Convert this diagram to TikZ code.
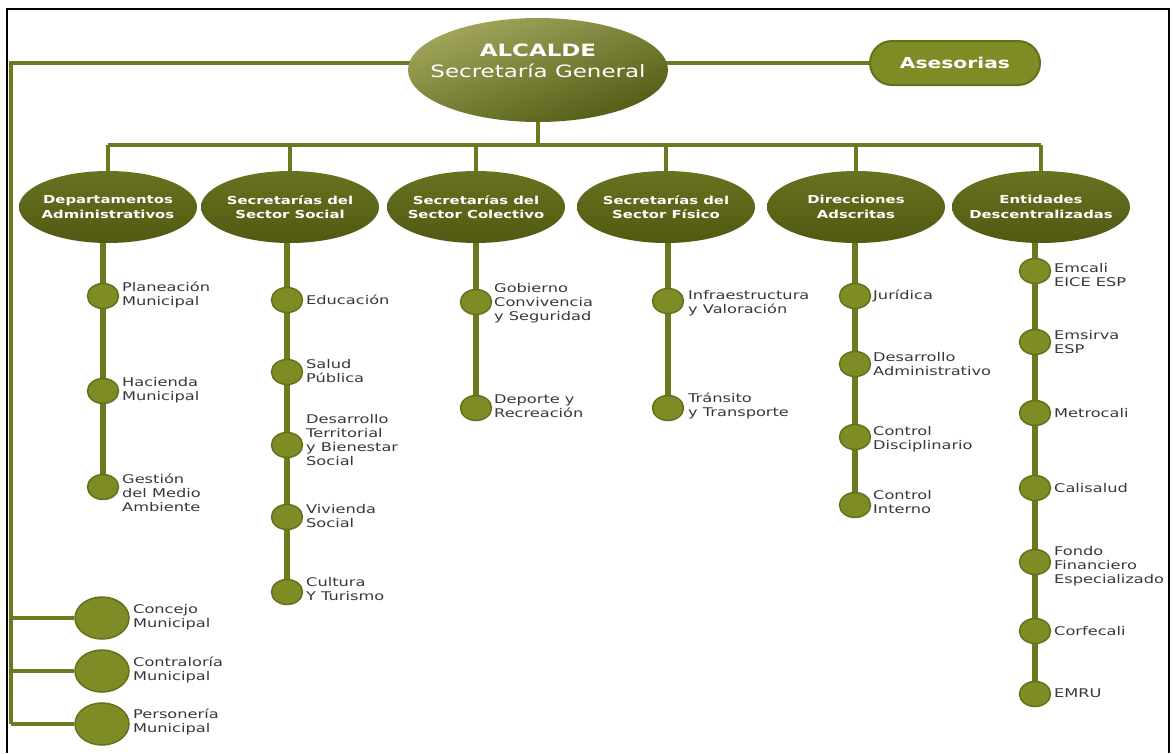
\documentclass[tikz,border=0pt]{standalone}
\usepackage{fontspec}
\newfontfamily\vfont{DejaVu Sans}[FakeStretch=1.35]
\usetikzlibrary{shapes.geometric}
\pgfdeclarelayer{bg}
\pgfsetlayers{bg,main}
\definecolor{olvline}{HTML}{6B7A1E}
\definecolor{olvfill}{HTML}{7F8B25}
\definecolor{olvedge}{HTML}{65701B}
\definecolor{olvlight}{HTML}{A2A75C}
\definecolor{olvdark}{HTML}{525A14}
\definecolor{catTop}{HTML}{68721F}
\definecolor{catBot}{HTML}{515912}
\definecolor{labgray}{HTML}{383838}
\begin{document}
\begin{tikzpicture}[x=1pt,y=-1pt,
  conn/.style={draw=olvline,line width=4.5pt},
  colline/.style={draw=olvline,line width=5.5pt},
  mainell/.style={ellipse,minimum width=260pt,minimum height=104pt,inner sep=0pt,
    top color=olvlight,bottom color=olvdark,shading angle=20,draw=none},
  catell/.style={ellipse,minimum width=178pt,minimum height=72pt,inner sep=0pt,
    top color=catTop,bottom color=catBot,draw=none},
  cattxt/.style={text=white,align=center,inner sep=0pt,
    font=\vfont\bfseries\fontsize{11}{14.5}\selectfont},
  dot/.style={ellipse,minimum width=31pt,minimum height=25pt,inner sep=0pt,
    fill=olvfill,draw=olvedge,line width=1.5pt},
  bigdot/.style={ellipse,minimum width=54pt,minimum height=42pt,inner sep=0pt,
    fill=olvfill,draw=olvedge,line width=1.5pt},
  lab/.style={anchor=west,align=left,inner sep=0pt,text=labgray,
    font=\vfont\fontsize{12}{14}\selectfont},
  pill/.style={rectangle,rounded corners=22pt,minimum width=170pt,minimum height=44pt,
    inner sep=0pt,fill=olvfill,draw=olvedge,line width=2pt,text=white,
    font=\vfont\bfseries\fontsize{15}{18}\selectfont}
]
\useasboundingbox (0,0) rectangle (1173,753);

% top
\node[mainell] (alc) at (538,70) {};
\node[text=white,align=center,inner sep=0pt] (alct) at (538,61)
  {{\vfont\bfseries\fontsize{17}{20}\selectfont ALCALDE}\\[6pt]
   {\vfont\fontsize{17}{20}\selectfont Secretaría General}};
\node[pill] (asr) at (955,63) {Asesorias};

% categories
\node[catell] (k1) at (108,207) {};
\node[catell] (k2) at (290,207) {};
\node[catell] (k3) at (476,207) {};
\node[catell] (k4) at (666,207) {};
\node[catell] (k5) at (856,207) {};
\node[catell] (k6) at (1041,207) {};
\node[cattxt] (k1t) at (k1) {Departamentos\\Administrativos};
\node[cattxt] (k2t) at (k2) {Secretarías del\\Sector Social};
\node[cattxt] (k3t) at (k3) {Secretarías del\\Sector Colectivo};
\node[cattxt] (k4t) at (k4) {Secretarías del\\Sector Físico};
\node[cattxt] (k5t) at (k5) {Direcciones\\Adscritas};
\node[cattxt] (k6t) at (k6) {Entidades\\Descentralizadas};

% column 1
\node[dot] (a1) at (103,296) {};
\node[dot] (a2) at (103,391) {};
\node[dot] (a3) at (103,487) {};
\node[lab] (a1t) at (122,295) {Planeación\\Municipal};
\node[lab] (a2t) at (122,390) {Hacienda\\Municipal};
\node[lab] (a3t) at (122,493) {Gestión\\del Medio\\Ambiente};
% column 2
\node[dot] (b1) at (287,300) {};
\node[dot] (b2) at (287,372) {};
\node[dot] (b3) at (287,445) {};
\node[dot] (b4) at (287,517) {};
\node[dot] (b5) at (287,592) {};
\node[lab] (b1t) at (306,300) {Educación};
\node[lab] (b2t) at (306,371) {Salud\\Pública};
\node[lab] (b3t) at (306,440) {Desarrollo\\Territorial\\y Bienestar\\Social};
\node[lab] (b4t) at (306,516) {Vivienda\\Social};
\node[lab] (b5t) at (306,589) {Cultura\\Y Turismo};
% column 3
\node[dot] (c1) at (476,302) {};
\node[dot] (c2) at (476,408) {};
\node[lab] (c1t) at (494,303) {Gobierno\\Convivencia\\y Seguridad};
\node[lab] (c2t) at (494,406) {Deporte y\\Recreación};
% column 4
\node[dot] (d1) at (668,301) {};
\node[dot] (d2) at (668,408) {};
\node[lab] (d1t) at (688,303) {Infraestructura\\y Valoración};
\node[lab] (d2t) at (688,406) {Tránsito\\y Transporte};
% column 5
\node[dot] (e1) at (855,296) {};
\node[dot] (e2) at (855,364) {};
\node[dot] (e3) at (855,437) {};
\node[dot] (e4) at (855,505) {};
\node[lab] (e1t) at (873,296) {Jurídica};
\node[lab] (e2t) at (873,364) {Desarrollo\\Administrativo};
\node[lab] (e3t) at (873,439) {Control\\Disciplinario};
\node[lab] (e4t) at (873,502) {Control\\Interno};
% column 6
\node[dot] (f1) at (1035,271) {};
\node[dot] (f2) at (1035,342) {};
\node[dot] (f3) at (1035,413) {};
\node[dot] (f4) at (1035,488) {};
\node[dot] (f5) at (1035,562) {};
\node[dot] (f6) at (1035,631) {};
\node[dot] (f7) at (1035,694) {};
\node[lab] (f1t) at (1054,275) {Emcali\\EICE ESP};
\node[lab] (f2t) at (1054,342) {Emsirva\\ESP};
\node[lab] (f3t) at (1054,413) {Metrocali};
\node[lab] (f4t) at (1054,488) {Calisalud};
\node[lab] (f5t) at (1054,566) {Fondo\\Financiero\\Especializado};
\node[lab] (f6t) at (1054,631) {Corfecali};
\node[lab] (f7t) at (1054,693) {EMRU};

% bottom-left
\node[bigdot] (g1) at (102,618) {};
\node[bigdot] (g2) at (102,671) {};
\node[bigdot] (g3) at (102,724) {};
\node[lab] (g1t) at (133,617) {Concejo\\Municipal};
\node[lab] (g2t) at (133,670) {Contraloría\\Municipal};
\node[lab] (g3t) at (133,722) {Personería\\Municipal};

\coordinate (ltop) at (11,63);
\coordinate (busL) at (108,145);
\coordinate (busR) at (1041,145);

\begin{pgfonlayer}{bg}
\fill[white] (0,0) rectangle (1173,753);
\draw[black,line width=2.5pt] (7,753) -- (7,9) -- (1169,9) -- (1169,753);
\draw[conn] (asr.west) -- (asr.west -| alc.center);
\draw[conn] (alc.center |- ltop) -- (ltop) -- (ltop |- g3);
\draw[conn] (ltop |- g1) -- (g1);
\draw[conn] (ltop |- g2) -- (g2);
\draw[conn] (ltop |- g3) -- (g3);
\draw[conn] (alc.center) -- (alc.center |- busL);
\draw[conn] (busL) -- (busR);
\foreach \k in {k1,k2,k3,k4,k5,k6}{
  \draw[conn] (\k.center |- busL) -- (\k.center);
}
\draw[colline] (a1 |- k1.south) -- (a3);
\draw[colline] (b1 |- k2.south) -- (b5);
\draw[colline] (c1 |- k3.south) -- (c2);
\draw[colline] (d1 |- k4.south) -- (d2);
\draw[colline] (e1 |- k5.south) -- (e4);
\draw[colline] (f1 |- k6.south) -- (f7);
\end{pgfonlayer}
\end{tikzpicture}
\end{document}
